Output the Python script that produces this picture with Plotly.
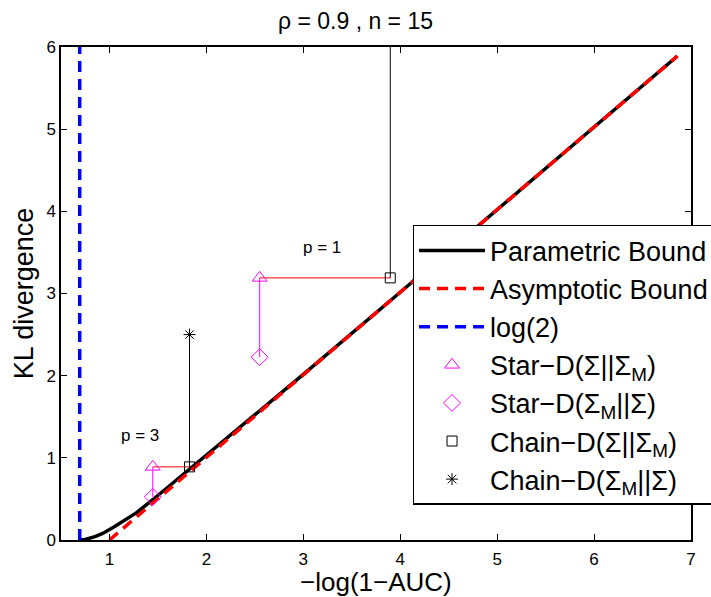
import plotly.graph_objects as go

# Parametric bound curve
param_x = [0.693, 0.75, 0.85, 0.93, 1.05, 1.15, 1.276, 1.447, 1.6, 1.826, 2.2, 3.0, 4.0, 5.0, 6.0, 6.86]
param_y = [0.0, 0.006, 0.04, 0.08, 0.16, 0.235, 0.33, 0.49, 0.64, 0.86, 1.225, 2.015, 3.015, 4.02, 5.025, 5.89]

# Asymptotic bound
asym_x = [1.0, 6.86]
asym_y = [0.0, 5.89]

# log(2) vertical
log2_x = [0.693, 0.693]
log2_y = [0.0, 6.0]

# Markers for p = 3 and p = 1
star_fwd_x = [1.447, 2.55]      # Star-D(Σ||ΣM) triangles
star_fwd_y = [0.89, 3.19]
star_rev_x = [1.447, 2.55]      # Star-D(ΣM||Σ) diamonds
star_rev_y = [0.525, 2.225]
chain_fwd_x = [1.826, 3.897]    # Chain-D(Σ||ΣM) squares
chain_fwd_y = [0.89, 3.19]
chain_rev_x = [1.826, 3.897]    # Chain-D(ΣM||Σ) asterisks
chain_rev_y = [2.50, 6.8]

labels = ["p = 3", "p = 1"]
label_x = [1.31, 3.19]
label_y = [1.27, 3.56]

x_title = "−log(1−AUC)"
y_title = "KL divergence"

fig = go.Figure()

# connector lines
for i in range(len(star_fwd_x)):
    fig.add_trace(go.Scatter(x=[star_fwd_x[i], star_rev_x[i]], y=[star_fwd_y[i], star_rev_y[i]],
                             mode="lines", line=dict(color="#FF00FF", width=1), showlegend=False, hoverinfo="skip"))
    fig.add_trace(go.Scatter(x=[star_fwd_x[i], chain_fwd_x[i]], y=[star_fwd_y[i], chain_fwd_y[i]],
                             mode="lines", line=dict(color="#FF0000", width=1), showlegend=False, hoverinfo="skip"))
    fig.add_trace(go.Scatter(x=[chain_fwd_x[i], chain_rev_x[i]], y=[chain_fwd_y[i], chain_rev_y[i]],
                             mode="lines", line=dict(color="#000000", width=1), showlegend=False, hoverinfo="skip"))

fig.add_trace(go.Scatter(x=param_x, y=param_y, mode="lines", name="Parametric Bound",
                         line=dict(color="black", width=3.5)))
fig.add_trace(go.Scatter(x=asym_x, y=asym_y, mode="lines", name="Asymptotic Bound",
                         line=dict(color="#FF0000", width=3.5, dash="11px,7px")))
fig.add_trace(go.Scatter(x=log2_x, y=log2_y, mode="lines", name="log(2)",
                         line=dict(color="#0000FF", width=3.5, dash="11px,7px")))
fig.add_trace(go.Scatter(x=star_fwd_x, y=star_fwd_y, mode="markers", name="Star−D(Σ||Σ<sub>M</sub>)",
                         marker=dict(symbol="triangle-up-open", color="#FF00FF", size=13, line=dict(width=1))))
fig.add_trace(go.Scatter(x=star_rev_x, y=star_rev_y, mode="markers", name="Star−D(Σ<sub>M</sub>||Σ)",
                         marker=dict(symbol="diamond-open", color="#FF00FF", size=13, line=dict(width=1))))
fig.add_trace(go.Scatter(x=chain_fwd_x, y=chain_fwd_y, mode="markers", name="Chain−D(Σ||Σ<sub>M</sub>)",
                         marker=dict(symbol="square-open", color="black", size=10, line=dict(width=1))))
fig.add_trace(go.Scatter(x=chain_rev_x, y=chain_rev_y, mode="markers", name="Chain−D(Σ<sub>M</sub>||Σ)",
                         marker=dict(symbol="asterisk-open", color="black", size=10, line=dict(width=1, color="black"))))

for t, x, y in zip(labels, label_x, label_y):
    fig.add_annotation(x=x, y=y, text=t, showarrow=False, font=dict(size=17, color="black"))

# x-axis title placed just below the tick labels
fig.add_annotation(x=0.5, y=-0.086, xref="paper", yref="paper", text=x_title, showarrow=False,
                   xanchor="center", yanchor="middle", font=dict(size=26, color="black"))

axis_common = dict(showline=True, linecolor="black", linewidth=1.5, mirror="allticks",
                   ticks="inside", ticklen=6, tickcolor="black", showgrid=False, zeroline=False,
                   tickfont=dict(size=17, color="black"), automargin=False)

fig.update_layout(
    width=711, height=597,
    margin=dict(l=61, r=20, t=47, b=57, autoexpand=False),
    paper_bgcolor="white", plot_bgcolor="white",
    font=dict(family="Liberation Sans", color="black"),
    title=dict(text="ρ = 0.9 , n = 15", x=0.5, xanchor="center", y=0.965, yanchor="middle",
               font=dict(size=23, color="black")),
    xaxis=dict(range=[0.5, 7], tickvals=[1, 2, 3, 4, 5, 6, 7], ticklabelstandoff=3, **axis_common),
    yaxis=dict(range=[0, 6], tickvals=[0, 1, 2, 3, 4, 5, 6],
               title=dict(text=y_title, font=dict(size=27), standoff=5), **axis_common),
    legend=dict(x=0.558, y=0.639, xanchor="left", yanchor="top", bgcolor="white",
                bordercolor="black", borderwidth=1.5, font=dict(size=27, color="black"),
                itemwidth=66, tracegroupgap=0),
    showlegend=True,
)

fig.write_html("out.html")
